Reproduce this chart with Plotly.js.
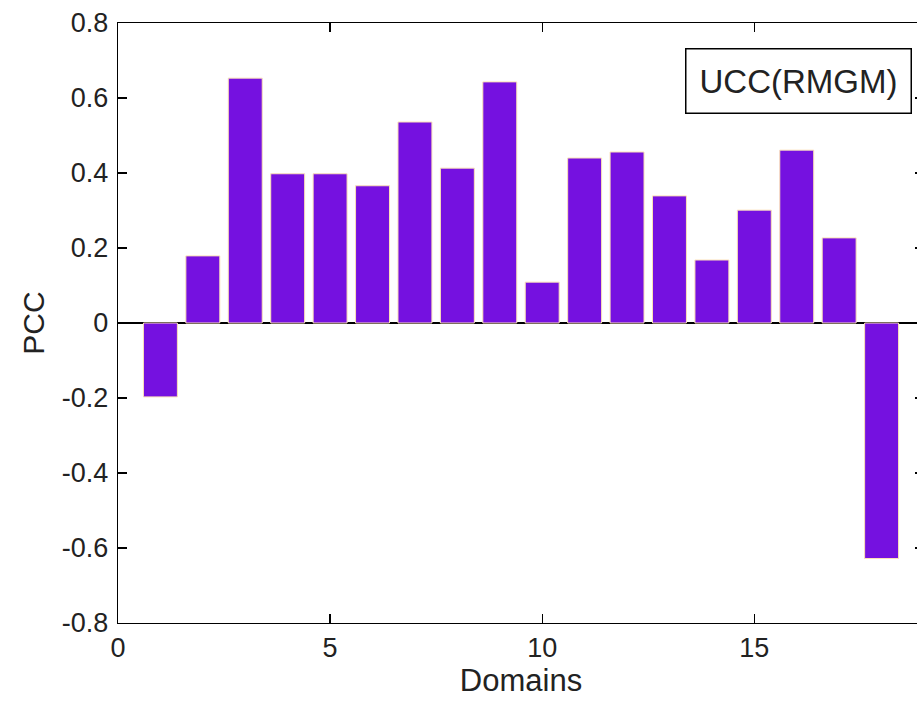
<!DOCTYPE html>
<html>
<head>
<meta charset="utf-8">
<script src="https://cdn.plot.ly/plotly-3.0.1.min.js"></script>
<style>
  html, body { margin: 0; padding: 0; overflow: hidden; background: #fff; width: 917px; height: 702px; }
  #chart { width: 926px; height: 702px; }
</style>
</head>
<body>
<div id="chart"></div>
<script>
const domains = [1, 2, 3, 4, 5, 6, 7, 8, 9, 10, 11, 12, 13, 14, 15, 16, 17, 18];
const pcc = [-0.197, 0.179, 0.653, 0.398, 0.398, 0.366, 0.536, 0.413, 0.643,
             0.109, 0.440, 0.456, 0.339, 0.168, 0.301, 0.461, 0.227, -0.628];
const seriesName = 'UCC(RMGM)';
const xTickVals = [0, 5, 10, 15];
const xTickText = ['0', '5', '10', '15'];
const yTickVals = [0.8, 0.6, 0.4, 0.2, 0, -0.2, -0.4, -0.6, -0.8];
const yTickText = ['0.8', '0.6', '0.4', '0.2', '0', '-0.2', '-0.4', '-0.6', '-0.8'];

const font = 'Liberation Sans, Arial, Helvetica, sans-serif';

const trace = {
  type: 'bar',
  x: domains,
  y: pcc,
  width: 0.8,
  name: seriesName,
  marker: { color: '#7511E0', line: { color: '#fbe0b8', width: 1 } },
  showlegend: false
};

const layout = {
  width: 926,
  height: 702,
  margin: { l: 118, r: 2, t: 23, b: 79 },
  paper_bgcolor: '#ffffff',
  plot_bgcolor: '#ffffff',
  font: { family: font, color: '#222222', size: 27 },
  xaxis: {
    range: [0, 19],
    tickvals: xTickVals,
    ticktext: xTickText,
    ticks: 'inside',
    ticklen: 9,
    tickwidth: 1.3,
    tickcolor: '#000',
    showline: true,
    linecolor: '#000',
    linewidth: 1.3,
    mirror: 'ticks',
    showgrid: false,
    zeroline: false,
    tickfont: { size: 27, family: font, color: '#222' },
    title: { text: 'Domains', font: { size: 31, family: font, color: '#222' }, standoff: 4 },
    automargin: false
  },
  yaxis: {
    range: [-0.8, 0.8],
    tickvals: yTickVals,
    ticktext: yTickText,
    ticks: 'inside',
    ticklen: 9,
    tickwidth: 1.3,
    tickcolor: '#000',
    showline: true,
    linecolor: '#000',
    linewidth: 1.3,
    mirror: 'ticks',
    showgrid: false,
    zeroline: true,
    zerolinecolor: '#000',
    zerolinewidth: 1.5,
    ticklabelstandoff: 3,
    tickfont: { size: 27, family: font, color: '#222' },
    title: { text: 'PCC', font: { size: 30, family: font, color: '#222' }, standoff: 8 },
    automargin: false
  },
  annotations: [{
    xref: 'paper', yref: 'paper',
    x: 0.9845, y: 0.9583,
    xanchor: 'right', yanchor: 'top',
    text: seriesName,
    showarrow: false,
    font: { size: 33, family: font, color: '#222' },
    bordercolor: '#000',
    borderwidth: 1.5,
    borderpad: 13,
    bgcolor: '#ffffff'
  }]
};

Plotly.newPlot('chart', [trace], layout, { displayModeBar: false, staticPlot: true });
</script>
</body>
</html>
